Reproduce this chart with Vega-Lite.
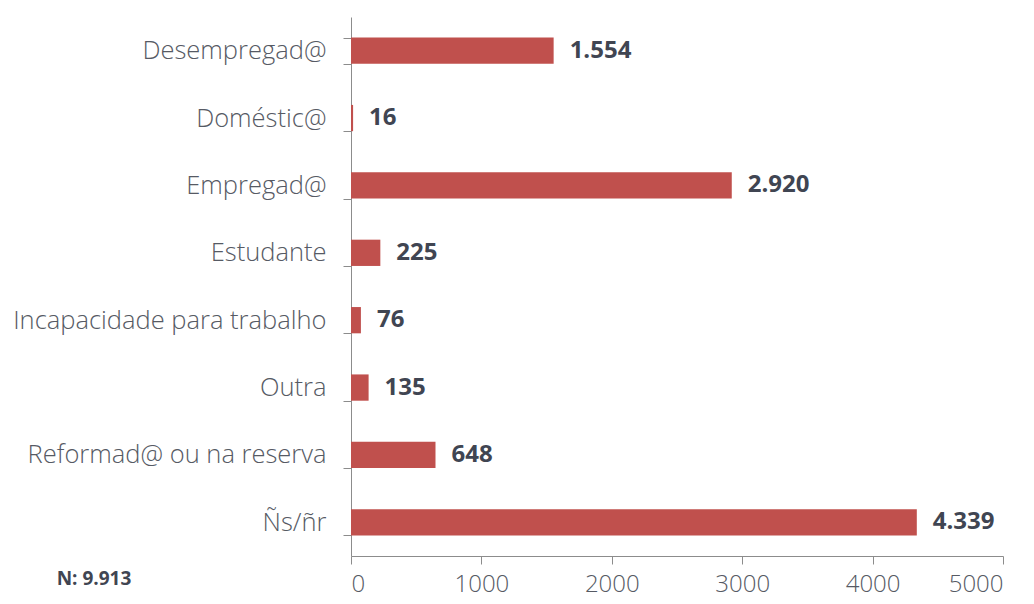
{
  "$schema": "https://vega.github.io/schema/vega-lite/v6.json",
  "width": 652,
  "height": 539,
  "padding": {"left": 12, "top": 5, "right": 5, "bottom": 5},
  "config": {
    "view": {"stroke": null},
    "font": "Open Sans",
    "locale": {"number": {"decimal": ",", "thousands": ".", "grouping": [3], "currency": ["", ""]}}
  },
  "title": {
    "text": "N: 9.913",
    "orient": "bottom",
    "anchor": "start",
    "frame": "bounds",
    "fontSize": 19,
    "fontWeight": "bold",
    "color": "#404552",
    "font": "Open Sans",
    "dx": 44,
    "offset": -26
  },
  "data": {
    "values": [
      {"categoria": "Desempregad@", "valor": 1554},
      {"categoria": "Doméstic@", "valor": 16},
      {"categoria": "Empregad@", "valor": 2920},
      {"categoria": "Estudante", "valor": 225},
      {"categoria": "Incapacidade para trabalho", "valor": 76},
      {"categoria": "Outra", "valor": 135},
      {"categoria": "Reformad@ ou na reserva", "valor": 648},
      {"categoria": "Ñs/ñr", "valor": 4339}
    ]
  },
  "encoding": {
    "y": {
      "field": "categoria",
      "type": "nominal",
      "sort": null,
      "scale": {"paddingInner": 0.61, "paddingOuter": 0.305},
      "axis": {
        "title": null,
        "tickBand": "extent",
        "tickSize": 8,
        "labelPadding": 17,
        "labelFontSize": 25.5,
        "labelFontWeight": 300,
        "labelColor": "#565a64",
        "labelFont": "Open Sans",
        "domainColor": "#8c8c8c",
        "tickColor": "#8c8c8c",
        "labelLimit": 500
      }
    },
    "x": {
      "field": "valor",
      "type": "quantitative",
      "scale": {"domain": [0, 5000], "nice": false},
      "axis": {
        "title": null,
        "values": [0, 1000, 2000, 3000, 4000, 5000],
        "format": "d",
        "grid": false,
        "tickSize": 8,
        "labelPadding": 8,
        "labelFontSize": 24,
        "labelFontWeight": 300,
        "labelColor": "#565a64",
        "labelFont": "Open Sans",
        "domainColor": "#8c8c8c",
        "tickColor": "#8c8c8c"
      }
    }
  },
  "layer": [
    {"mark": {"type": "bar", "color": "#C0504D"}},
    {
      "mark": {"type": "text", "align": "left", "baseline": "middle", "dx": 16, "fontSize": 24, "fontWeight": "bold", "color": "#404552", "font": "Open Sans"},
      "encoding": {"text": {"field": "valor", "type": "quantitative", "format": ",d"}}
    }
  ]
}
